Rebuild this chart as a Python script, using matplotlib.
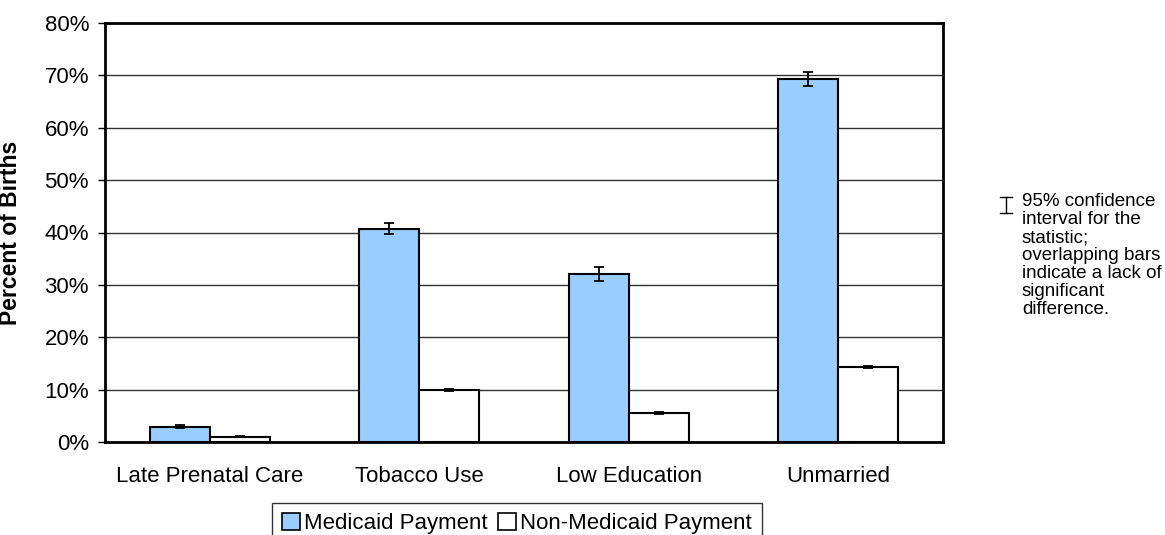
import matplotlib
matplotlib.use("Agg")
import matplotlib.pyplot as plt
import numpy as np
from matplotlib.lines import Line2D
from matplotlib.patches import Patch
from matplotlib.ticker import PercentFormatter

plt.rcParams["font.family"] = ["Liberation Sans", "DejaVu Sans"]

categories = ["Late Prenatal Care", "Tobacco Use", "Low Education", "Unmarried"]
medicaid = [2.9, 40.7, 32.1, 69.3]
medicaid_lo = [2.6, 39.7, 30.7, 68.0]
medicaid_hi = [3.2, 41.8, 33.5, 70.7]
non_medicaid = [1.0, 10.0, 5.6, 14.3]
non_medicaid_lo = [0.9, 9.8, 5.4, 14.1]
non_medicaid_hi = [1.1, 10.2, 5.8, 14.5]
series_labels = ["Medicaid Payment", "Non-Medicaid Payment"]
note = ("95% confidence\ninterval for the\nstatistic;\noverlapping bars\n"
        "indicate a lack of\nsignificant\ndifference.")

BLUE = "#99CCFF"
W, H = 1165, 535

fig = plt.figure(figsize=(W / 100, H / 100), dpi=100)
ax = fig.add_axes([105 / W, 1 - 442 / H, (943 - 105) / W, (442 - 23) / H])

x = np.arange(len(categories))
width = 0.286


def yerr(vals, lo, hi):
    v = np.array(vals)
    return np.vstack([v - np.array(lo), np.array(hi) - v])


err_kw = dict(ecolor="black", elinewidth=1.3, capsize=3.8, capthick=1.3)
ax.bar(x - width / 2, medicaid, width, color=BLUE, edgecolor="black", linewidth=1.5,
       yerr=yerr(medicaid, medicaid_lo, medicaid_hi), error_kw=err_kw, zorder=3)
ax.bar(x + width / 2, non_medicaid, width, color="white", edgecolor="black", linewidth=1.5,
       yerr=yerr(non_medicaid, non_medicaid_lo, non_medicaid_hi), error_kw=err_kw, zorder=3)

ax.set_xlim(-0.5, len(categories) - 0.5)
ax.set_ylim(0, 80)
ax.set_yticks(np.arange(0, 81, 10))
ax.yaxis.set_major_formatter(PercentFormatter(decimals=0))
ax.yaxis.grid(True, color="#333333", linewidth=1.0, zorder=0)
ax.set_axisbelow(True)

ax.set_xticks(x)
ax.set_xticklabels(categories)
ax.tick_params(axis="x", length=0, pad=17, labelsize=16)
ax.tick_params(axis="y", length=5, width=1, pad=6.5, labelsize=16)
for s in ax.spines.values():
    s.set_linewidth(2)
    s.set_color("black")

ax.set_ylabel("Percent of Births", fontsize=16.5, fontweight="bold")
ax.yaxis.set_label_coords(-0.099, 0.5)

handles = [Patch(facecolor=BLUE, edgecolor="black", linewidth=1.2),
           Patch(facecolor="white", edgecolor="black", linewidth=1.2)]
leg = fig.legend(handles, series_labels, ncol=2, loc="upper left",
                 bbox_to_anchor=(272 / W, 1 - 503 / H), fontsize=16,
                 frameon=True, fancybox=False, edgecolor="black",
                 handlelength=0.8, handleheight=0.8, handletextpad=0.2,
                 columnspacing=0.45, borderpad=0.45, borderaxespad=0)
leg.get_frame().set_linewidth(1.0)

# small confidence-interval key beside the note
kx, ky0, ky1 = 1006 / W, 1 - 197 / H, 1 - 213 / H
cw = 5.5 / W
for xs, ys in [([kx, kx], [ky0, ky1]),
               ([kx - cw, kx + cw], [ky0, ky0]),
               ([kx - cw, kx + cw], [ky1, ky1])]:
    fig.add_artist(Line2D(xs, ys, transform=fig.transFigure, color="black", linewidth=1.0))
fig.text(1022 / W, 1 - 193 / H, note, fontsize=13.5, va="top", ha="left",
         linespacing=1.08)

fig.savefig("out.png", dpi=100)
